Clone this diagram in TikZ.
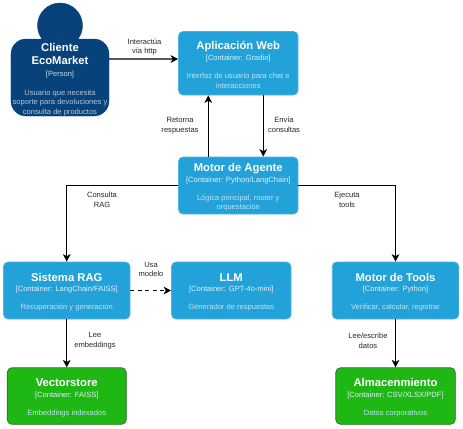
\documentclass[tikz,border=0pt]{standalone}
\usepackage{fontspec}
\setmainfont{Liberation Sans}
\usetikzlibrary{arrows.meta}
\definecolor{cblue}{HTML}{23A2D9}
\definecolor{cblueedge}{HTML}{4DB1E0}
\definecolor{cdark}{HTML}{08427B}
\definecolor{cgreen}{HTML}{1FB714}
\definecolor{cgreenedge}{HTML}{2E6B2A}
\newcommand{\titlefont}{\fontsize{11.3}{9.5}\bfseries}
\newcommand{\subfont}{\fontsize{7.6}{9.5}\selectfont}
\newcommand{\tl}[1]{{\titlefont\selectfont\textcolor{white}{#1}}}
\newcommand{\sbl}[1]{{\subfont\textcolor{white!85!cblue}{#1}}}
\newcommand{\dl}[1]{{\subfont\textcolor{white!70!cblue}{#1}}}
\newcommand{\boxtext}[3]{\rule{0pt}{11.5bp}\tl{#1}\\[1.5bp]\sbl{#2}\\[8.5bp]#3}
\tikzset{
  every picture/.append style={x=1bp,y=-1bp},
  base/.style={rounded corners=4.5bp,inner sep=0pt,align=center,text=white,line width=0.6bp,font=\subfont},
  container/.style={base,draw=cblueedge,fill=cblue},
  store/.style={base,draw=cgreenedge,fill=cgreen},
  person/.style={draw=cdark,fill=cdark,inner sep=0pt},
  rel/.style={draw=black,line width=1.45bp,-{Stealth[length=7.5bp,width=7.5bp,inset=2bp]}},
  rellabel/.style={font=\fontsize{7.6}{9.7}\selectfont,align=center,inner sep=0pt,text=black!85}
}
\begin{document}
\begin{tikzpicture}
\useasboundingbox (0,0) rectangle (463,428);
\node[person,circle,minimum size=45bp] (head) at (60,25.5) {};
\node[person,rounded corners=15bp,minimum width=98bp,minimum height=77bp,align=center,text=white,font=\subfont] (client) at (60,77.5) {\rule{0pt}{12.5bp}\tl{Cliente}\\[3.5bp]\tl{EcoMarket}\\[2.5bp]{\subfont\textcolor{white!80!cdark}{[Person]}}\\[9.5bp]{\subfont\textcolor{white!70!cdark}{Usuario que necesita}}\\{\subfont\textcolor{white!70!cdark}{soporte para devoluciones y}}\\{\subfont\textcolor{white!70!cdark}{consulta de productos}}};
\node[container,minimum width=119.5bp,minimum height=63.5bp] (app) at (238.25,63.25) {\boxtext{Aplicación Web}{[Container: Gradio]}{\dl{Interfaz de usuario para chat e}\\\dl{interacciones}}};
\node[container,minimum width=119.5bp,minimum height=57bp] (motor) at (238.25,185.5) {\boxtext{Motor de Agente}{[Container: Python/LangChain]}{\dl{Lógica principal, router y}\\\dl{orquestación}}};
\node[container,minimum width=126.5bp,minimum height=57bp] (rag) at (66.75,290.5) {\boxtext{Sistema RAG}{[Container: LangChain/FAISS]}{\dl{Recuperación y generación}}};
\node[container,minimum width=119.5bp,minimum height=57bp] (llm) at (231.25,290.5) {\boxtext{LLM}{[Container: GPT-4o-mini]}{\dl{Generador de respuestas}}};
\node[container,minimum width=126.5bp,minimum height=57bp] (tools) at (395.5,290.5) {\boxtext{Motor de Tools}{[Container: Python]}{\dl{Verificar, calcular, registrar}}};
\node[store,minimum width=119bp,minimum height=56.5bp] (vector) at (66.75,396) {\boxtext{Vectorstore}{[Container: FAISS]}{\dl{Embeddings indexados}}};
\node[store,minimum width=119.5bp,minimum height=56.5bp] (alm) at (395.5,396) {\boxtext{Almacenmiento}{[Container: CSV/XLSX/PDF]}{\dl{Datos corporativos}}};
\draw[rel] ([yshift=18.5bp]client.east) -- ([yshift=4.25bp]app.west);
\draw[rel] ([xshift=25bp]app.south) -- ([xshift=25bp]motor.north);
\draw[rel] ([xshift=-30bp]motor.north) -- ([xshift=-30bp]app.south);
\draw[rel] (motor.west) -| (rag.north);
\draw[rel] (motor.east) -| (tools.north);
\draw[rel,dash pattern=on 4bp off 3.5bp] (rag.east) -- (llm.west);
\draw[rel] (rag.south) -- (vector.north);
\draw[rel] (tools.south) -- (alm.north);
\node[rellabel] (l1) at (144.5,47) {Interactúa\\vía http};
\node[rellabel] (l2) at (180,126) {Retorna\\respuestas};
\node[rellabel] (l3) at (284,125) {Envía\\consultas};
\node[rellabel] (l4) at (102,200) {Consulta\\RAG};
\node[rellabel] (l5) at (347,200) {Ejecuta\\tools};
\node[rellabel] (l6) at (151,269.5) {Usa\\modelo};
\node[rellabel] (l7) at (95,341) {Lee\\embeddings};
\node[rellabel] (l8) at (368,341) {Lee/escribe\\datos};
\end{tikzpicture}
\end{document}
